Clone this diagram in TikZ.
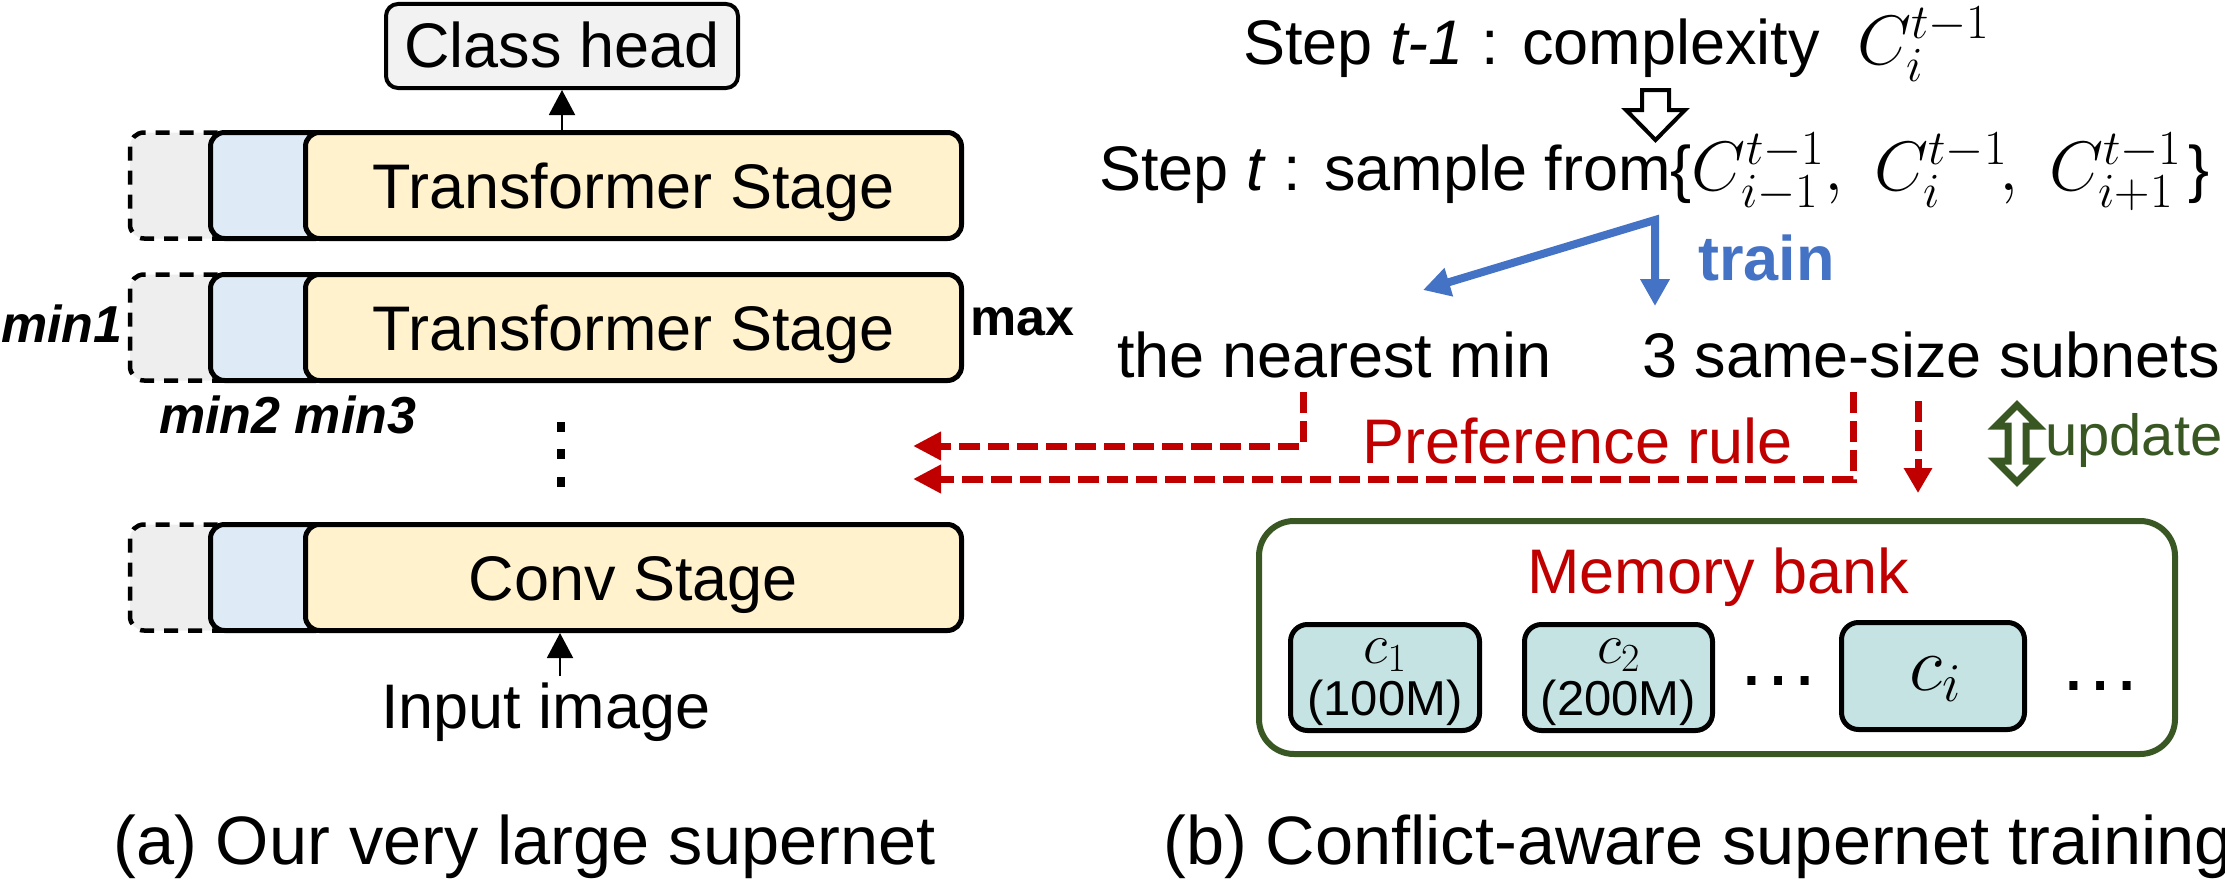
\RequirePackage{fix-cm}
\documentclass[tikz,border=0pt]{standalone}
\usepackage[no-math]{fontspec}
\setmainfont{Liberation Sans}
\usetikzlibrary{arrows.meta}
\definecolor{cred}{RGB}{192,0,0}
\definecolor{cblue}{RGB}{68,114,196}
\definecolor{cgreen}{RGB}{56,87,35}
\definecolor{cgray}{RGB}{238,238,238}
\definecolor{cbluefill}{RGB}{222,235,247}
\definecolor{cyellow}{RGB}{255,242,204}
\definecolor{cteal}{RGB}{197,227,227}
\definecolor{chead}{RGB}{242,242,242}
\newcommand{\bigmath}[1]{{\fontsize{70}{75}\selectfont$#1$}}
\begin{document}
\begin{tikzpicture}[x=1pt,y=-1pt,
  lab/.style={inner sep=0pt, font=\fontsize{63}{70}\selectfont},
  minlab/.style={inner sep=0pt, anchor=base west, font=\fontsize{52}{60}\selectfont\bfseries\itshape},
  caplab/.style={inner sep=0pt, anchor=base west, font=\fontsize{68.5}{75}\selectfont},
  ybox/.style={draw, line width=5pt, fill=cyellow, rounded corners=14pt, minimum width=656pt, minimum height=106pt, inner sep=0pt},
  bluebox/.style={draw, line width=5pt, fill=cbluefill, rounded corners=14pt},
  graybox/.style={draw, line width=4.5pt, fill=cgray, rounded corners=14pt, dash pattern=on 14pt off 10pt},
  headbox/.style={draw, line width=4pt, fill=chead, rounded corners=12pt, minimum width=352pt, minimum height=84pt, inner sep=0pt},
  thinarrow/.style={line width=2pt, -{Triangle[length=25pt,width=26pt]}},
  bluearrow/.style={cblue, line width=8pt, line join=miter, {Triangle[length=27pt,width=28pt]}-{Triangle[length=27pt,width=28pt]}},
  redarrow/.style={cred, line width=7pt, dash pattern=on 21pt off 8pt, -{Triangle[length=28pt,width=27pt]}},
  cbox/.style={draw, line width=5pt, fill=cteal, rounded corners=17pt, inner sep=0pt, minimum height=106pt},
  ]
\useasboundingbox (0,0) rectangle (2225,883);

% ---------- left panel ----------
\node[headbox] (head) at (562,46) {};
\node[lab, anchor=base] (headtxt) at (562,68) {Class head};

\foreach \yc/\nm/\lab/\by in {185.5/s1/Transformer Stage/208, 327.5/s2/Transformer Stage/350, 577.5/s3/Conv Stage/600} {
  \draw[graybox] (130,\yc-53) rectangle (240,\yc+53);
  \draw[bluebox] (210.5,\yc-53) rectangle (330,\yc+53);
  \node[ybox] (\nm) at (633.5,\yc) {};
  \node[lab, anchor=base] (\nm txt) at (633.5,\by) {\lab};
}

\draw[thinarrow] (head.south |- s1.north) -- (head.south);

\draw[line width=8pt, dash pattern=on 10pt off 17.4pt] (561,422) -- (561,487);

\node[minlab] (min1) at (1,342) {min1};
\node[minlab] (min23) at (159,433) {min2 min3};
\node[inner sep=0pt, anchor=base west, font=\fontsize{52}{60}\selectfont\bfseries] (max) at (970,335) {max};

\node[lab, anchor=base] (inp) at (546,728) {Input image};
\coordinate (inptop) at (560,676);
\draw[thinarrow] (inptop) -- (inptop |- s3.south);

\node[caplab] (capa) at (113,864) {(a) Our very large supernet};

% ---------- right panel ----------
\node[lab, anchor=base west] (step1) at (1243,64) {Step \textit{t-1} : complexity\hspace{20pt} \bigmath{C_i^{t-1}}};
\draw[line width=4pt, fill=white, line join=miter] (1642,90) -- (1669,90) -- (1669,110) -- (1685,110) -- (1655.5,140) -- (1626,110) -- (1642,110) -- cycle;
\node[lab, anchor=base west] (step2) at (1099,190) {Step \textit{t} : sample from\{\bigmath{C_{i-1}^{t-1},\ C_i^{t-1}\mkern-2mu,\ C_{i+1}^{t-1}}\hspace{7pt}\}};

\coordinate (split) at (1655,220);
\coordinate (tipL) at (1423,290);
\coordinate (tipD) at (1655,306);
\draw[bluearrow] (tipL) -- (split) -- (tipD);
\node[inner sep=0pt, anchor=base west, font=\fontsize{63}{70}\selectfont\bfseries, text=cblue] (train) at (1698,280) {train};

\node[lab, anchor=base west] (nearest) at (1117,377) {the nearest min};
\node[lab, anchor=base west] (same) at (1642,377) {3 same-size subnets};

\coordinate (r1) at (1303,392);
\coordinate (r2) at (1853,392);
\coordinate (r3) at (1918,401);
\coordinate (t1) at (913,446);
\coordinate (t2) at (913,479);
\draw[redarrow] (r1) -- (r1 |- t1) -- (t1);
\draw[redarrow] (r2) -- (r2 |- t2) -- (t2);
\draw[cred, line width=7pt, dash pattern=on 21pt off 8pt, -{Triangle[length=25pt,width=27pt]}] (r3) -- (1918,493);
\node[lab, anchor=base west, text=cred] (pref) at (1362,463) {Preference rule};

\draw[cgreen, line width=7pt, fill=white, line join=miter] (2017,405) -- (2038,426) -- (2026,426) -- (2026,461) -- (2038,461) -- (2017,482) -- (1996,461) -- (2008,461) -- (2008,426) -- (1996,426) -- cycle;
\node[inner sep=0pt, anchor=base west, font=\fontsize{58}{64}\selectfont, text=cgreen] (upd) at (2045,455) {update};

\node[draw=cgreen, line width=6pt, rounded corners=35pt, minimum width=916pt, minimum height=233pt, inner sep=0pt] (mem) at (1717,637.5) {};
\node[lab, anchor=base, text=cred] (memtxt) at (1718,593) {Memory bank};

\node[cbox, minimum width=189pt] (c1) at (1385,677.5) {};
\node[cbox, minimum width=188pt] (c2) at (1618.5,677.5) {};
\node[cbox, minimum width=183pt, minimum height=107pt] (ci) at (1933,676) {};
\node[inner sep=0pt, anchor=base, font=\fontsize{57}{60}\selectfont] (c1a) at (1385,663) {$c_1$};
\node[inner sep=0pt, anchor=base, font=\fontsize{49}{55}\selectfont] (c1b) at (1385,715) {(100M)};
\node[inner sep=0pt, anchor=base, font=\fontsize{57}{60}\selectfont] (c2a) at (1618.5,663) {$c_2$};
\node[inner sep=0pt, anchor=base, font=\fontsize{49}{55}\selectfont] (c2b) at (1618.5,715) {(200M)};
\node[inner sep=0pt, anchor=base, font=\fontsize{78}{80}\selectfont] (cia) at (1935,690) {$c_i$};
\node[inner sep=0pt, anchor=base west, font=\fontsize{84}{90}\selectfont] (dots1) at (1736,685) {…};
\node[inner sep=0pt, anchor=base west, font=\fontsize{84}{90}\selectfont] (dots2) at (2058,690) {…};

\node[caplab] (capb) at (1163,864) {(b) Conflict-aware supernet training};
\end{tikzpicture}
\end{document}
